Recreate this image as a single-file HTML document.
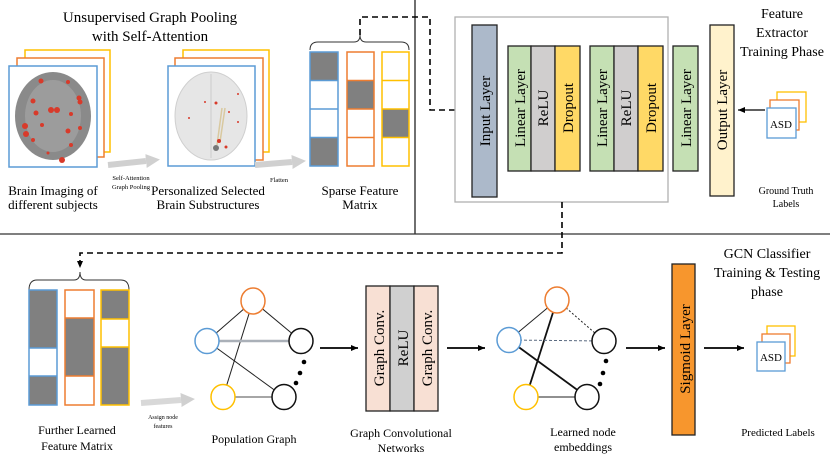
<!DOCTYPE html>
<html><head><meta charset="utf-8"><style>
html,body{margin:0;padding:0;background:#fff;}
svg{display:block;font-family:"Liberation Serif",serif;}
</style></head><body>
<svg width="830" height="467" viewBox="0 0 830 467" xmlns="http://www.w3.org/2000/svg">
<defs>
<marker id="ah" markerWidth="8" markerHeight="8" refX="7" refY="4" orient="auto" markerUnits="userSpaceOnUse"><path d="M0,1 L7,4 L0,7 Z" fill="#000"/></marker>
<marker id="ga" markerWidth="14" markerHeight="14" refX="0" refY="7" orient="auto" markerUnits="userSpaceOnUse"><path d="M0,0 L14,7 L0,14 Z" fill="#d0d0d0"/></marker>
</defs>
<!-- dividers -->
<line x1="415" y1="0" x2="415" y2="234" stroke="#222" stroke-width="1.3"/>
<line x1="0" y1="234" x2="830" y2="234" stroke="#333" stroke-width="1.3"/>

<!-- titles top-left -->
<text x="150" y="22" font-size="15" text-anchor="middle">Unsupervised Graph Pooling</text>
<text x="150" y="41" font-size="15" text-anchor="middle">with Self-Attention</text>

<!-- brain stack 1 -->
<rect x="25" y="50" width="85" height="102" fill="#fff" stroke="#ffc000" stroke-width="1.5"/>
<rect x="17" y="58" width="87" height="99" fill="#fff" stroke="#ed7d31" stroke-width="1.5"/>
<rect x="9" y="66" width="88" height="101" fill="#fff" stroke="#5b9bd5" stroke-width="1.5"/>
<ellipse cx="53" cy="116" rx="38" ry="44" fill="#8a8a8a"/>
<ellipse cx="53" cy="116" rx="28" ry="36" fill="#a8a8a8" opacity="0.6"/>
<g fill="#d83a2a">
<circle cx="41" cy="81" r="2.5"/><circle cx="68" cy="82" r="2"/><circle cx="33" cy="101" r="2.5"/><circle cx="79" cy="98" r="2.5"/><circle cx="80" cy="102" r="2.5"/><circle cx="51" cy="110" r="3"/><circle cx="57" cy="110" r="3"/><circle cx="36" cy="113" r="2.5"/><circle cx="71" cy="114" r="2"/><circle cx="25" cy="126" r="3"/><circle cx="26" cy="134" r="3"/><circle cx="68" cy="131" r="2.5"/><circle cx="80" cy="128" r="2"/><circle cx="33" cy="140" r="2"/><circle cx="71" cy="145" r="2"/><circle cx="62" cy="160" r="3"/><circle cx="48" cy="153" r="1.5"/><circle cx="42" cy="125" r="2"/>
</g>
<!-- brain stack 2 -->
<rect x="183" y="50" width="86" height="102" fill="#fff" stroke="#ffc000" stroke-width="1.5"/>
<rect x="175" y="58" width="88" height="102" fill="#fff" stroke="#ed7d31" stroke-width="1.5"/>
<rect x="168" y="66" width="87" height="100" fill="#fff" stroke="#5b9bd5" stroke-width="1.5"/>
<ellipse cx="211" cy="116" rx="36" ry="44" fill="#e6e6e6" stroke="#cfcfcf"/>
<line x1="211" y1="74" x2="211" y2="158" stroke="#ccc"/>
<line x1="222" y1="108" x2="217" y2="145" stroke="#d9c9a0" stroke-width="1.5"/>
<line x1="225" y1="108" x2="220" y2="142" stroke="#d9c9a0" stroke-width="1.5"/>
<g fill="#d83a2a"><circle cx="216" cy="103" r="1.5"/><circle cx="205" cy="102" r="1"/><circle cx="238" cy="94" r="1"/><circle cx="229" cy="112" r="1"/><circle cx="219" cy="141" r="2"/><circle cx="226" cy="147" r="1.5"/><circle cx="189" cy="118" r="1"/><circle cx="238" cy="122" r="1"/></g>
<circle cx="216" cy="148" r="3" fill="#777"/>
<!-- gray arrows -->
<line x1="108" y1="165" x2="146" y2="161" stroke="#d0d0d0" stroke-width="6" marker-end="url(#ga)"/>
<line x1="255" y1="165" x2="292" y2="162" stroke="#d0d0d0" stroke-width="6" marker-end="url(#ga)"/>
<text x="131" y="180" font-size="6.5" text-anchor="middle">Self-Attention</text>
<text x="131" y="189" font-size="6.5" text-anchor="middle">Graph Pooling</text>
<text x="279" y="182" font-size="6.5" text-anchor="middle">Flatten</text>
<text x="53" y="195" font-size="13" text-anchor="middle">Brain Imaging of</text>
<text x="53" y="209" font-size="13" text-anchor="middle">different subjects</text>
<text x="208" y="195" font-size="13" text-anchor="middle">Personalized Selected</text>
<text x="208" y="209" font-size="13" text-anchor="middle">Brain Substructures</text>
<text x="360" y="195" font-size="13" text-anchor="middle">Sparse Feature</text>
<text x="360" y="209" font-size="13" text-anchor="middle">Matrix</text>

<!-- sparse matrix -->
<g stroke-width="1.5">
<rect x="310" y="52" width="28" height="28.5" fill="#808080"/><rect x="310" y="137.5" width="28" height="28.5" fill="#808080"/>
<rect x="310" y="52" width="28" height="114" fill="none" stroke="#5b9bd5"/>
<line x1="310" y1="80.5" x2="338" y2="80.5" stroke="#5b9bd5"/><line x1="310" y1="109" x2="338" y2="109" stroke="#5b9bd5"/><line x1="310" y1="137.5" x2="338" y2="137.5" stroke="#5b9bd5"/>
<rect x="347" y="80.5" width="27" height="28.5" fill="#808080"/>
<rect x="347" y="52" width="27" height="114" fill="none" stroke="#ed7d31"/>
<line x1="347" y1="80.5" x2="374" y2="80.5" stroke="#ed7d31"/><line x1="347" y1="109" x2="374" y2="109" stroke="#ed7d31"/><line x1="347" y1="137.5" x2="374" y2="137.5" stroke="#ed7d31"/>
<rect x="382" y="109" width="27" height="28.5" fill="#808080"/>
<rect x="382" y="52" width="27" height="114" fill="none" stroke="#ffc000"/>
<line x1="382" y1="80.5" x2="409" y2="80.5" stroke="#ffc000"/><line x1="382" y1="109" x2="409" y2="109" stroke="#ffc000"/><line x1="382" y1="137.5" x2="409" y2="137.5" stroke="#ffc000"/>
</g>
<path d="M310,50 Q310,42 318,42 L354,42 Q360,42 360,35 Q360,42 366,42 L401,42 Q409,42 409,50" fill="none" stroke="#333" stroke-width="1"/>
<path d="M360,35 L360,17 L430,17 L430,110 L470,110" fill="none" stroke="#000" stroke-width="1.6" stroke-dasharray="6,4" marker-end="url(#ah)"/>

<!-- feature extractor -->
<rect x="455" y="17" width="213" height="185" fill="#fff" stroke="#b0b0b0" stroke-width="1.3"/>
<g stroke="#222" stroke-width="1.3">
<rect x="472" y="25" width="25" height="172" fill="#acb9ca"/>
<rect x="508" y="46" width="23" height="125" fill="#c5e0b4"/>
<rect x="531" y="46" width="24" height="125" fill="#d0cece"/>
<rect x="555" y="46" width="25" height="125" fill="#ffd966"/>
<rect x="590" y="46" width="24" height="125" fill="#c5e0b4"/>
<rect x="614" y="46" width="24" height="125" fill="#d0cece"/>
<rect x="638" y="46" width="25" height="125" fill="#ffd966"/>
<rect x="673" y="46" width="25" height="125" fill="#c5e0b4"/>
<rect x="710" y="25" width="24" height="171" fill="#fff2cc"/>
</g>
<g font-size="15" text-anchor="middle">
<text transform="translate(490,111) rotate(-90)">Input Layer</text>
<text transform="translate(525,108) rotate(-90)">Linear Layer</text>
<text transform="translate(548,108) rotate(-90)">ReLU</text>
<text transform="translate(573,108) rotate(-90)">Dropout</text>
<text transform="translate(607,108) rotate(-90)">Linear Layer</text>
<text transform="translate(631,108) rotate(-90)">ReLU</text>
<text transform="translate(656,108) rotate(-90)">Dropout</text>
<text transform="translate(691,108) rotate(-90)">Linear Layer</text>
<text transform="translate(727,110) rotate(-90)">Output Layer</text>
</g>
<line x1="765" y1="110" x2="738" y2="110" stroke="#000" stroke-width="1.3" marker-end="url(#ah)"/>
<rect x="777" y="92" width="29" height="30" fill="#fff" stroke="#ffc000" stroke-width="1.3"/>
<rect x="770" y="100" width="29" height="30" fill="#fff" stroke="#ed7d31" stroke-width="1.3"/>
<rect x="767" y="108" width="29" height="30" fill="#fff" stroke="#5b9bd5" stroke-width="1.3"/>
<text x="781" y="128" font-size="11" text-anchor="middle">ASD</text>
<text x="782" y="18" font-size="14" text-anchor="middle">Feature</text>
<text x="782" y="37" font-size="14" text-anchor="middle">Extractor</text>
<text x="782" y="56" font-size="14" text-anchor="middle">Training Phase</text>
<text x="786" y="194" font-size="10" text-anchor="middle">Ground Truth</text>
<text x="786" y="207" font-size="10" text-anchor="middle">Labels</text>

<!-- dashed connection to bottom -->
<path d="M562,202 L562,253 L80,253 L80,268" fill="none" stroke="#000" stroke-width="1.6" stroke-dasharray="6,4" marker-end="url(#ah)"/>
<path d="M29,290 Q29,280 37,280 L74,280 Q80,280 80,272 Q80,280 86,280 L121,280 Q129,280 129,290" fill="none" stroke="#333" stroke-width="1"/>

<!-- further learned matrix -->
<g stroke-width="1.5">
<rect x="29" y="290" width="28" height="58" fill="#808080"/><rect x="29" y="376" width="28" height="29" fill="#808080"/>
<rect x="29" y="290" width="28" height="115" fill="none" stroke="#5b9bd5"/>
<line x1="29" y1="348" x2="57" y2="348" stroke="#5b9bd5"/><line x1="29" y1="376" x2="57" y2="376" stroke="#5b9bd5"/>
<rect x="65" y="318" width="29" height="58" fill="#808080"/>
<rect x="65" y="290" width="29" height="115" fill="none" stroke="#ed7d31"/>
<line x1="65" y1="318" x2="94" y2="318" stroke="#ed7d31"/><line x1="65" y1="376" x2="94" y2="376" stroke="#ed7d31"/>
<rect x="101" y="290" width="28" height="29" fill="#808080"/><rect x="101" y="347" width="28" height="58" fill="#808080"/>
<rect x="101" y="290" width="28" height="115" fill="none" stroke="#ffc000"/>
<line x1="101" y1="319" x2="129" y2="319" stroke="#ffc000"/><line x1="101" y1="347" x2="129" y2="347" stroke="#ffc000"/>
</g>
<line x1="141" y1="403" x2="181" y2="400" stroke="#d8d8d8" stroke-width="6" marker-end="url(#ga)"/>
<text x="163" y="419" font-size="6" text-anchor="middle">Assign node</text>
<text x="163" y="428" font-size="6" text-anchor="middle">features</text>
<text x="77" y="434" font-size="12" text-anchor="middle">Further Learned</text>
<text x="77" y="450" font-size="12" text-anchor="middle">Feature Matrix</text>

<!-- population graph -->
<g stroke-width="1">
<line x1="253" y1="301" x2="207" y2="341" stroke="#222"/>
<line x1="253" y1="301" x2="301" y2="341" stroke="#222"/>
<line x1="253" y1="301" x2="223" y2="397" stroke="#222"/>
<line x1="207" y1="341" x2="301" y2="341" stroke="#aab0b8" stroke-width="2.5"/>
<line x1="207" y1="341" x2="284" y2="397" stroke="#222"/>
<line x1="223" y1="397" x2="284" y2="397" stroke="#888" stroke-width="1.5"/>
</g>
<g fill="#fff" stroke-width="1.5">
<ellipse cx="253" cy="301" rx="12" ry="13" stroke="#ed7d31"/>
<ellipse cx="207" cy="341" rx="12" ry="12.5" stroke="#5b9bd5"/>
<ellipse cx="301" cy="341" rx="12" ry="12.5" stroke="#111"/>
<ellipse cx="223" cy="397" rx="12" ry="12.5" stroke="#ffc000"/>
<ellipse cx="284" cy="397" rx="12" ry="12.5" stroke="#111"/>
</g>
<circle cx="304" cy="362" r="2.3"/><circle cx="300" cy="373" r="2.3"/><circle cx="296" cy="383" r="2.3"/>
<text x="254" y="443" font-size="12" text-anchor="middle">Population Graph</text>
<line x1="320" y1="348" x2="358" y2="348" stroke="#000" stroke-width="1.8" marker-end="url(#ah)"/>

<!-- GCN block -->
<g stroke="#222" stroke-width="1.3">
<rect x="366" y="286" width="24" height="125" fill="#f8e0d4"/>
<rect x="390" y="286" width="24" height="125" fill="#d0d0d0"/>
<rect x="414" y="286" width="24" height="125" fill="#f8e0d4"/>
</g>
<g font-size="15" text-anchor="middle">
<text transform="translate(384,348) rotate(-90)">Graph Conv.</text>
<text transform="translate(408,348) rotate(-90)">ReLU</text>
<text transform="translate(432,348) rotate(-90)">Graph Conv.</text>
</g>
<text x="401" y="437" font-size="12" text-anchor="middle">Graph Convolutional</text>
<text x="401" y="452" font-size="12" text-anchor="middle">Networks</text>
<line x1="447" y1="348" x2="485" y2="348" stroke="#000" stroke-width="1.8" marker-end="url(#ah)"/>

<!-- learned embeddings -->
<g>
<line x1="557" y1="300" x2="509" y2="340" stroke="#222" stroke-width="1"/>
<line x1="557" y1="300" x2="604" y2="341" stroke="#222" stroke-width="1" stroke-dasharray="2,2"/>
<line x1="557" y1="300" x2="526" y2="397" stroke="#111" stroke-width="1.8"/>
<line x1="509" y1="340" x2="604" y2="341" stroke="#5a6a80" stroke-width="1" stroke-dasharray="3,2"/>
<line x1="509" y1="340" x2="587" y2="397" stroke="#111" stroke-width="1.8"/>
<line x1="526" y1="397" x2="587" y2="397" stroke="#222" stroke-width="1"/>
</g>
<g fill="#fff" stroke-width="1.5">
<ellipse cx="557" cy="300" rx="12" ry="13" stroke="#ed7d31"/>
<ellipse cx="509" cy="340" rx="12" ry="12.5" stroke="#5b9bd5"/>
<ellipse cx="604" cy="341" rx="12" ry="12.5" stroke="#111"/>
<ellipse cx="526" cy="397" rx="12" ry="12.5" stroke="#ffc000"/>
<ellipse cx="587" cy="397" rx="12" ry="12.5" stroke="#111"/>
</g>
<circle cx="606" cy="361" r="2.3"/><circle cx="603" cy="373" r="2.3"/><circle cx="600" cy="384" r="2.3"/>
<text x="583" y="436" font-size="12" text-anchor="middle">Learned node</text>
<text x="583" y="451" font-size="12" text-anchor="middle">embeddings</text>
<line x1="626" y1="348" x2="665" y2="348" stroke="#000" stroke-width="1.8" marker-end="url(#ah)"/>

<!-- sigmoid -->
<rect x="672" y="264" width="23" height="171" fill="#f7962d" stroke="#222" stroke-width="1.3"/>
<text transform="translate(690,349) rotate(-90)" font-size="15" text-anchor="middle">Sigmoid Layer</text>
<line x1="704" y1="348" x2="744" y2="348" stroke="#000" stroke-width="1.8" marker-end="url(#ah)"/>
<rect x="767" y="326" width="28" height="30" fill="#fff" stroke="#ffc000" stroke-width="1.3"/>
<rect x="762" y="334" width="28" height="29" fill="#fff" stroke="#ed7d31" stroke-width="1.3"/>
<rect x="757" y="342" width="28" height="29" fill="#fff" stroke="#5b9bd5" stroke-width="1.3"/>
<text x="771" y="361" font-size="11" text-anchor="middle">ASD</text>
<text x="767" y="258" font-size="14" text-anchor="middle">GCN Classifier</text>
<text x="767" y="277" font-size="14" text-anchor="middle">Training &amp; Testing</text>
<text x="767" y="296" font-size="14" text-anchor="middle">phase</text>
<text x="778" y="436" font-size="11" text-anchor="middle">Predicted Labels</text>
</svg>
</body></html>
